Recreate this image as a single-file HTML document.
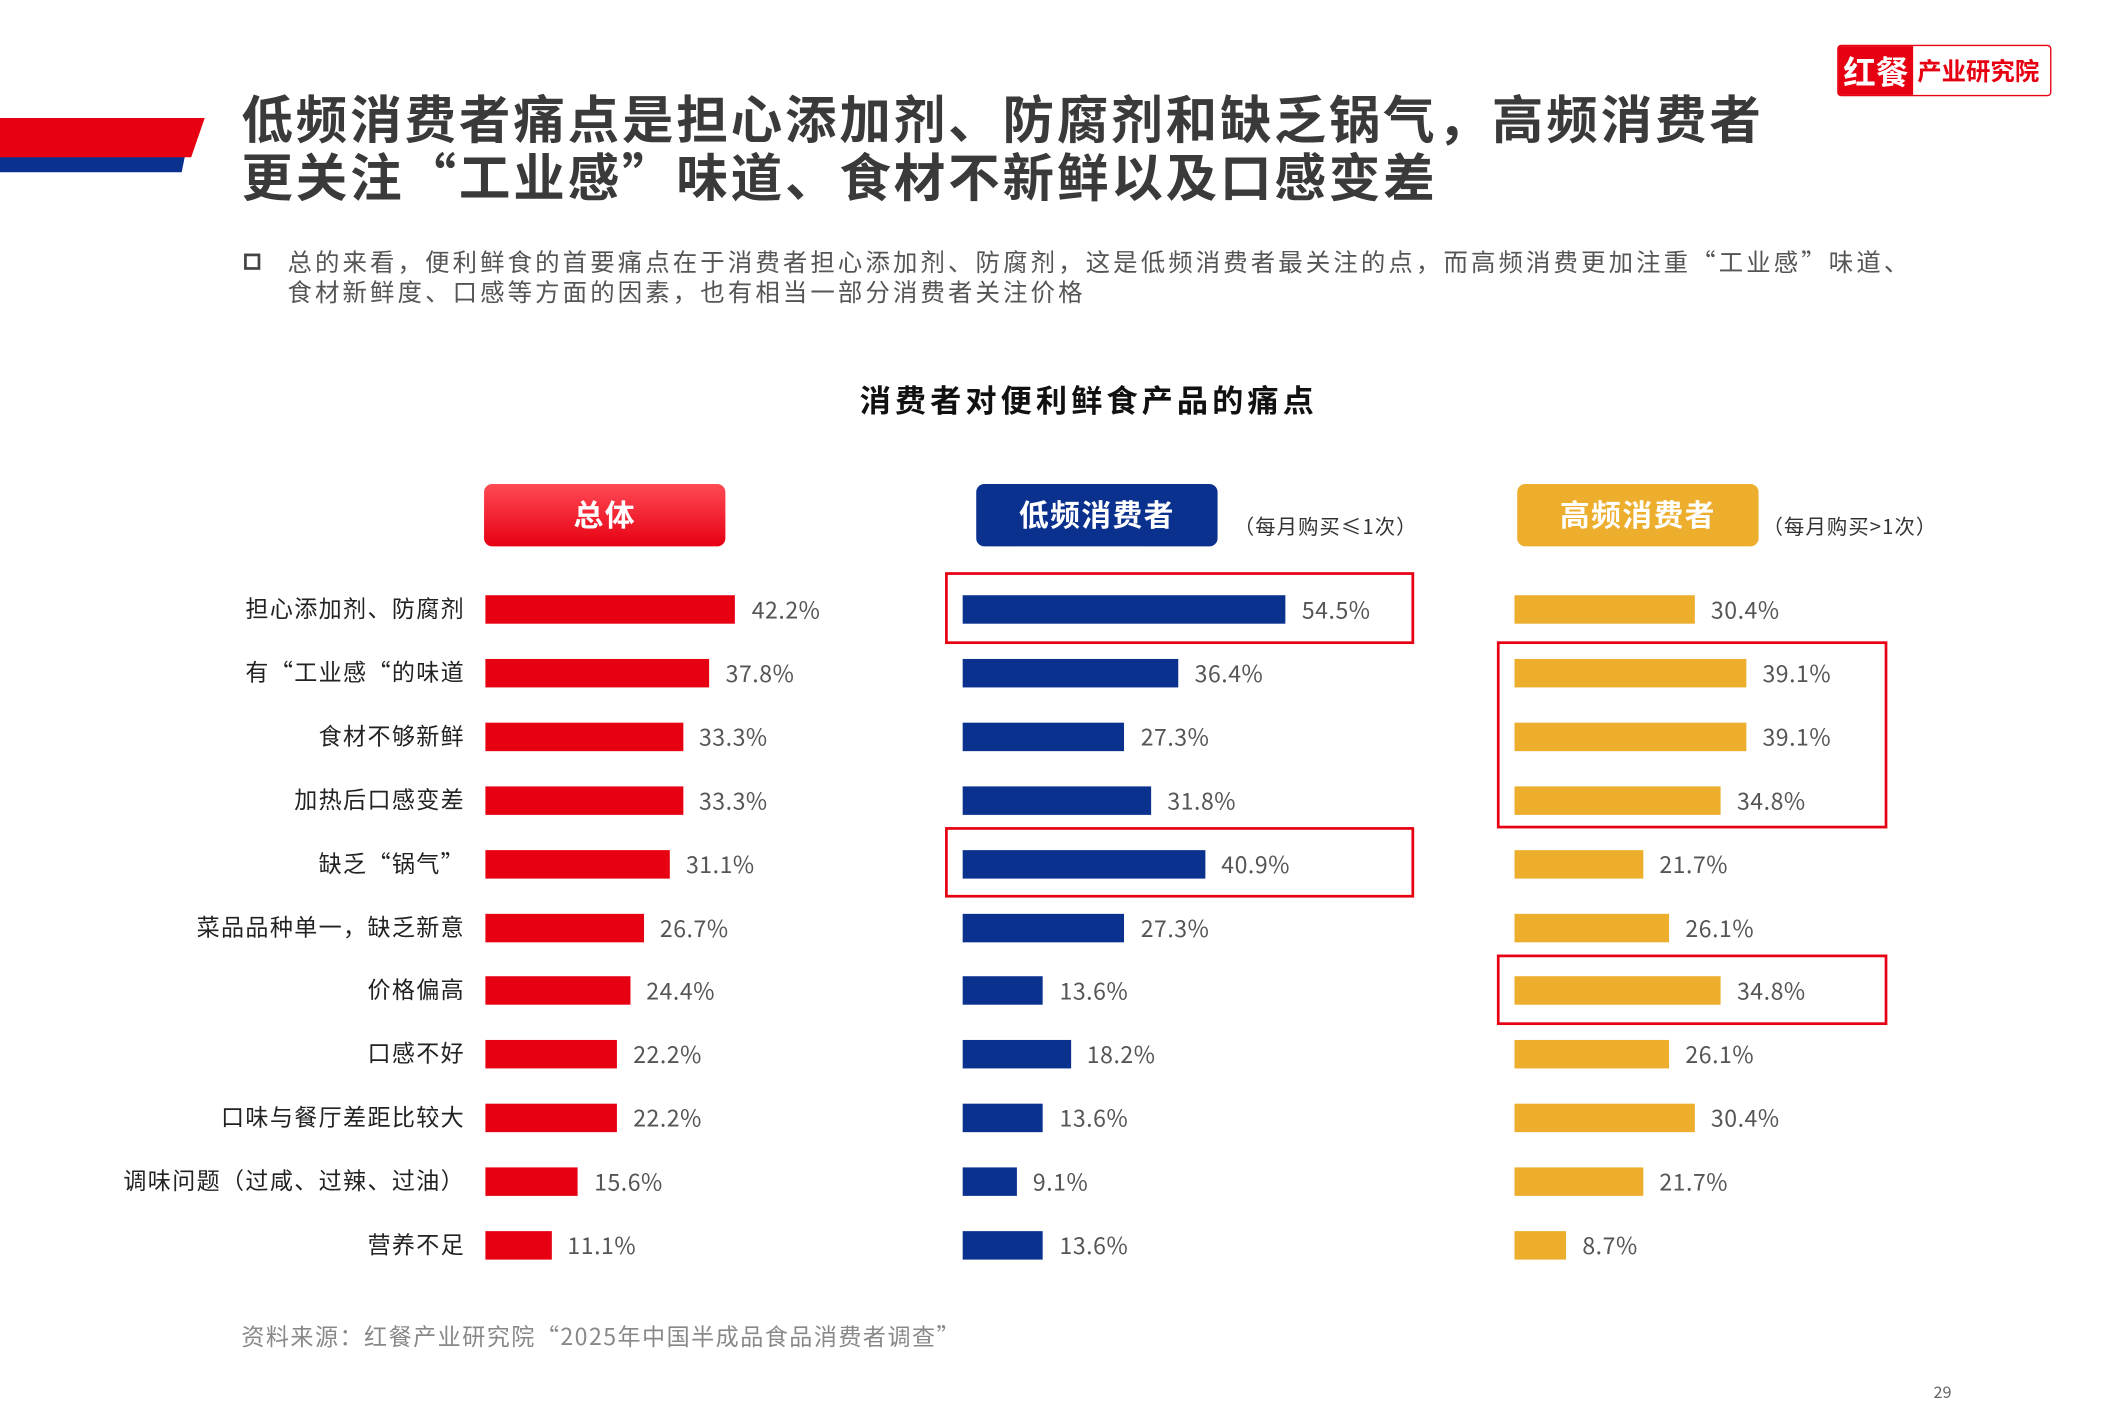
<!DOCTYPE html>
<html><head><meta charset="utf-8"><style>
html,body{margin:0;padding:0;background:#fff;}
body{width:2126px;height:1418px;overflow:hidden;position:relative;}
#s{position:absolute;left:0;top:0;width:1568px;height:1046px;transform:scale(1.35587);transform-origin:0 0;font-family:"Noto Sans CJK SC","Liberation Sans",sans-serif;}
.a{position:absolute;white-space:nowrap;}
.t{font-size:38px;font-weight:bold;color:#3a3a3a;left:178px;line-height:44px;letter-spacing:2.1px;}
.lab{right:1225px;font-size:17px;color:#222;line-height:22px;letter-spacing:1px;}
.v{font-size:17px;color:#555;line-height:22px;letter-spacing:0.4px;}
.bar{position:absolute;height:21px;}
.hl{position:absolute;border:2px solid #E60012;box-sizing:border-box;}
.hd{position:absolute;top:357px;width:178px;height:46px;border-radius:6px;color:#fff;font-size:22px;font-weight:bold;text-align:center;line-height:44px;letter-spacing:1px;}
.note{font-size:15px;color:#333;top:378px;letter-spacing:0.8px;}
</style></head><body><div id="s">
<svg class="a" style="left:0;top:85px" width="160" height="45"><polygon points="0,12 140,12 134,42 0,42" fill="#0B318F"/><polygon points="0,2 151,2 141,31 0,31" fill="#E60012"/></svg>
<div class="a t" style="top:64px">低频消费者痛点是担心添加剂、防腐剂和缺乏锅气，高频消费者</div>
<div class="a t" style="top:107px">更关注“工业感”味道、食材不新鲜以及口感变差</div>
<div class="a" style="left:1355px;top:33px;width:158px;height:38px;border:1px solid #E60012;box-sizing:border-box;border-radius:3px;background:#fff;">
<div style="position:absolute;left:0;top:0;width:55px;height:36px;background:#E60012;color:#fff;font-size:24px;font-weight:bold;line-height:36px;text-align:center;">红餐</div>
<div style="position:absolute;left:58px;top:0;height:36px;color:#E60012;font-size:18px;font-weight:bold;line-height:36px;">产业研究院</div></div>
<div class="a" style="left:180px;top:187px;width:12px;height:12px;border:2px solid #444;box-sizing:border-box;"></div>
<div class="a" style="left:212px;top:182px;font-size:18px;color:#555;line-height:22px;letter-spacing:2.3px;">总的来看，便利鲜食的首要痛点在于消费者担心添加剂、防腐剂，这是低频消费者最关注的点，而高频消费更加注重“工业感”味道、<br>食材新鲜度、口感等方面的因素，也有相当一部分消费者关注价格</div>
<div class="a" style="left:0;width:1606px;text-align:center;top:279px;font-size:23px;font-weight:bold;color:#111;line-height:30px;letter-spacing:3px;">消费者对便利鲜食产品的痛点</div>
<div class="hd" style="left:357px;background:linear-gradient(180deg,#ff4a55,#e60012);">总体</div>
<div class="hd" style="left:720px;background:#0B318F;">低频消费者</div>
<div class="hd" style="left:1119px;background:#EDAE2E;">高频消费者</div>
<div class="a note" style="left:910px">（每月购买≤1次）</div>
<div class="a note" style="left:1300px">（每月购买>1次）</div>
<div class="hl" style="left:697px;top:422px;width:346px;height:53px"></div>
<div class="hl" style="left:697px;top:610px;width:346px;height:52px"></div>
<div class="hl" style="left:1104px;top:473px;width:288px;height:138px"></div>
<div class="hl" style="left:1104px;top:704px;width:288px;height:52px"></div>
<div id="rows"></div>
<div class="a" style="left:178px;top:972px;font-size:17px;color:#888;letter-spacing:1.1px;">资料来源：红餐产业研究院“2025年中国半成品食品消费者调查”</div>
<div class="a" style="left:1426px;top:1018px;font-size:12px;color:#666;">29</div>
</div>
<script>
var L=["担心添加剂、防腐剂","有“工业感“的味道","食材不够新鲜","加热后口感变差","缺乏“锅气”","菜品品种单一，缺乏新意","价格偏高","口感不好","口味与餐厅差距比较大","调味问题（过咸、过辣、过油）","营养不足"];
var A=[42.2,37.8,33.3,33.3,31.1,26.7,24.4,22.2,22.2,15.6,11.1];
var B=[54.5,36.4,27.3,31.8,40.9,27.3,13.6,18.2,13.6,9.1,13.6];
var C=[30.4,39.1,39.1,34.8,21.7,26.1,34.8,26.1,30.4,21.7,8.7];
var h="",k=4.37;
for(var i=0;i<11;i++){var y=449+i*46.9;
h+='<div class="a lab" style="top:'+(y-12)+'px">'+L[i]+'</div>';
[[358,A,"#E60012"],[710,B,"#0B318F"],[1117,C,"#EDAE2E"]].forEach(function(c){var w=c[1][i]*k;
h+='<div class="bar" style="left:'+c[0]+'px;top:'+(y-10)+'px;width:'+w+'px;background:'+c[2]+'"></div>';
h+='<div class="a v" style="left:'+(c[0]+w+12)+'px;top:'+(y-11)+'px">'+c[1][i].toFixed(1)+'%</div>';});}
document.getElementById("rows").outerHTML=h;
</script>
</body></html>
